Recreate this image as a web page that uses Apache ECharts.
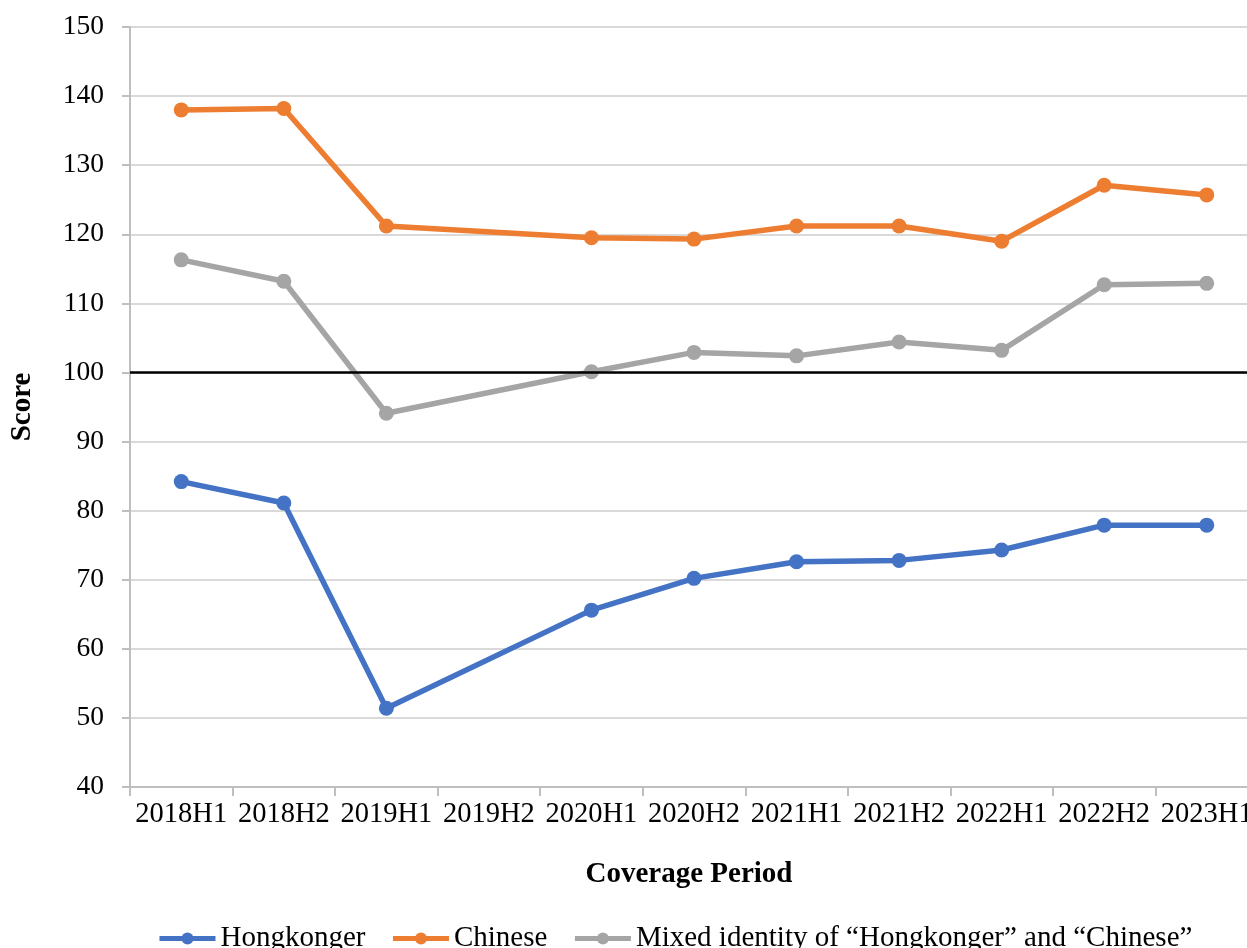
<!DOCTYPE html>
<html>
<head>
<meta charset="utf-8">
<script src="https://cdn.jsdelivr.net/npm/echarts@6/dist/echarts.min.js"></script>
<style>
  html, body { margin: 0; padding: 0; background: #fff; overflow: hidden; }
  /* 原图右侧被裁掉一截，容器比窗口略宽 */
  #chart { width: 1258px; height: 948px; }
</style>
</head>
<body>
<div id="chart"></div>
<script>
// 数据
const periods = ['2018H1', '2018H2', '2019H1', '2019H2', '2020H1', '2020H2', '2021H1', '2021H2', '2022H1', '2022H2', '2023H1']
const hongkonger = [84.2, 81.1, 51.4, null, 65.6, 70.2, 72.6, 72.8, 74.3, 77.9, 77.9]
const chinese = [138.0, 138.2, 121.2, null, 119.5, 119.3, 121.2, 121.2, 119.0, 127.1, 125.7]
const mixed = [116.3, 113.2, 94.1, null, 100.1, 102.9, 102.4, 104.4, 103.2, 112.7, 112.9]
const seriesNames = ['Hongkonger', 'Chinese', 'Mixed identity of \u201cHongkonger\u201d and \u201cChinese\u201d']
const baseline = 100

const font = 'Liberation Serif'

function lineSeries(name, data, color, extra) {
    return Object.assign({
        name: name,
        type: 'line',
        data: data,
        connectNulls: true,
        symbol: 'circle',
        symbolSize: 15,
        itemStyle: { color: color },
        lineStyle: { color: color, width: 5.5 }
    }, extra || {})
}

var myChart = echarts.init(document.getElementById('chart'))
myChart.setOption({
    animation: false,
    textStyle: { fontFamily: font },
    grid: { left: 128, right: 0, top: 27, bottom: 161 },
    legend: {
        left: 157,
        top: 924,
        padding: 0,
        itemWidth: 56,
        itemHeight: 15,
        itemGap: 25,
        lineStyle: { width: 5 },
        textStyle: { fontFamily: font, fontSize: 29, color: '#000' },
        data: seriesNames
    },
    xAxis: {
        type: 'category',
        data: periods,
        boundaryGap: true,
        name: 'Coverage Period',
        nameLocation: 'middle',
        nameGap: 73,
        nameTextStyle: { fontFamily: font, fontSize: 29, fontWeight: 'bold', color: '#000', padding: [0, 10, 0, 0] },
        axisLine: { lineStyle: { color: '#bfbfbf', width: 2 } },
        axisTick: { show: true, length: 9, lineStyle: { color: '#bfbfbf', width: 2 } },
        axisLabel: { interval: 0, margin: 13, fontSize: 28.5, color: '#000', fontFamily: font }
    },
    yAxis: {
        type: 'value',
        min: 40,
        max: 150,
        interval: 10,
        name: 'Score',
        nameLocation: 'middle',
        nameGap: 93,
        nameTextStyle: { fontFamily: font, fontSize: 29, fontWeight: 'bold', color: '#000' },
        axisLine: { show: true, lineStyle: { color: '#bfbfbf', width: 2 } },
        axisTick: { show: true, length: 8, lineStyle: { color: '#bfbfbf', width: 2 } },
        axisLabel: { margin: 26, fontSize: 27.5, color: '#000', fontFamily: font },
        splitLine: { lineStyle: { color: '#d9d9d9', width: 2 } }
    },
    series: [
        lineSeries(seriesNames[0], hongkonger, '#4472c4', {
            markLine: {
                silent: true,
                symbol: 'none',
                label: { show: false },
                lineStyle: { color: '#000', width: 2.5, type: 'solid' },
                data: [{ yAxis: baseline }]
            }
        }),
        lineSeries(seriesNames[1], chinese, '#ed7d31'),
        lineSeries(seriesNames[2], mixed, '#a5a5a5')
    ]
})
</script>
</body>
</html>
